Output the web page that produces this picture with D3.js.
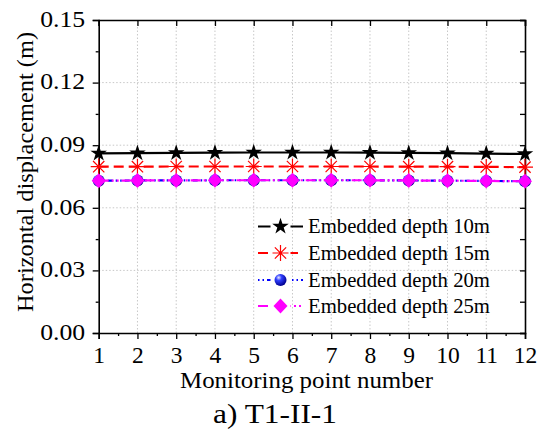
<!DOCTYPE html>
<html><head><meta charset="utf-8">
<script src="https://cdn.jsdelivr.net/npm/d3@7"></script>
<style>body{margin:0;background:#fff}svg{display:block}</style>
</head><body>
<script>
const points = [1,2,3,4,5,6,7,8,9,10,11,12];
const depth10 = [0.0861,0.0862,0.0863,0.0864,0.0865,0.0865,0.0865,0.0864,0.0863,0.0862,0.0860,0.0858];
const depth15 = [0.0797,0.0797,0.0798,0.0798,0.0798,0.0798,0.0798,0.0798,0.0797,0.0797,0.0796,0.0795];
const depth20 = [0.0730,0.0731,0.0731,0.0732,0.0732,0.0732,0.0732,0.0732,0.0731,0.0730,0.0729,0.0727];
const depth25 = [0.0730,0.0731,0.0731,0.0732,0.0732,0.0732,0.0732,0.0732,0.0731,0.0730,0.0729,0.0727];
const seriesNames = ["Embedded depth 10m","Embedded depth 15m","Embedded depth 20m","Embedded depth 25m"];
const yTicks = [0.00,0.03,0.06,0.09,0.12,0.15];
const yMinor = [0.015,0.045,0.075,0.105,0.135];
const xMinor = [1.5,2.5,3.5,4.5,5.5,6.5,7.5,8.5,9.5,10.5,11.5];

const FONT="Liberation Serif";
const W=547,H=430;
const L=98.7,R=525,T=20,B=333;
const svg=d3.select("body").append("svg").attr("width",W).attr("height",H);
const x=d3.scaleLinear().domain([1,12]).range([L,R]);
const y=d3.scaleLinear().domain([0,0.15]).range([B,T]);

const defs=svg.append("defs");
const g=defs.append("radialGradient").attr("id","sph").attr("cx","35%").attr("cy","30%").attr("r","70%");
g.append("stop").attr("offset","0%").attr("stop-color","#e8e8ff");
g.append("stop").attr("offset","35%").attr("stop-color","#3040ff");
g.append("stop").attr("offset","100%").attr("stop-color","#000090");

// grid
const grid=svg.append("g").attr("stroke","#c8c8c8").attr("stroke-width",1).attr("stroke-dasharray","1.5,2");
points.slice(1,-1).forEach(v=>grid.append("line").attr("x1",x(v)).attr("x2",x(v)).attr("y1",T).attr("y2",B));
yTicks.slice(1,-1).forEach(v=>grid.append("line").attr("x1",L).attr("x2",R).attr("y1",y(v)).attr("y2",y(v)));

// axes
const fmt=d3.format(".2f");
const axL=svg.append("g").attr("transform",`translate(${L},0)`).call(d3.axisLeft(y).tickValues(yTicks).tickFormat(fmt).tickSize(6).tickPadding(7.5));
svg.append("g").attr("transform",`translate(${L},0)`).call(d3.axisLeft(y).tickValues(yMinor).tickFormat("").tickSize(3)).select(".domain").remove();
const axB=svg.append("g").attr("transform",`translate(0,${B})`).call(d3.axisBottom(x).tickValues(points).tickFormat(d3.format("d")).tickSize(6).tickPadding(7.5));
svg.append("g").attr("transform",`translate(0,${B})`).call(d3.axisBottom(x).tickValues(xMinor).tickFormat("").tickSize(3)).select(".domain").remove();
svg.append("g").attr("transform",`translate(0,${T})`).call(d3.axisTop(x).tickValues(points).tickFormat("").tickSize(-6));
svg.append("g").attr("transform",`translate(${R},0)`).call(d3.axisRight(y).tickValues(yTicks.concat(yMinor)).tickFormat("").tickSize(-5));
svg.selectAll("g").attr("font-family",null).attr("font-size",null);
svg.selectAll(".domain").attr("stroke","#000").attr("stroke-width",1.6);
svg.selectAll(".tick line").attr("stroke","#000").attr("stroke-width",1.3);
axL.selectAll("text").attr("font-size",23.5).attr("dy","0.27em").attr("textLength",45).attr("lengthAdjust","spacingAndGlyphs");
axB.selectAll("text").attr("font-size",23.5).attr("dy","0.71em");

// markers
function asterisk(r){let p="";for(let i=0;i<4;i++){const a=i*Math.PI/4;const dx=r*Math.cos(a),dy=r*Math.sin(a);p+=`M${-dx},${-dy}L${dx},${dy}`;}return p;}
function drawMarker(sel,type){
  if(type===0) sel.append("path").attr("d",d3.symbol(d3.symbolStar,85)()).attr("fill","#000");
  else if(type===1) sel.append("path").attr("d",asterisk(8)).attr("stroke","#ff0000").attr("stroke-width",1.2).attr("fill","none");
  else if(type===2) sel.append("circle").attr("r",6).attr("fill","url(#sph)");
  else sel.append("path").attr("d","M0,-7.5L7,0L0,7.5L-7,0Z").attr("fill","#ff00ff");
}
const styles=[
  {color:"#000",dash:null,w:2.2},
  {color:"#ff0000",dash:"10,5",w:2.2},
  {color:"#0000ff",dash:"1.5,3,1.5,3,5,3",w:2.2},
  {color:"#ff00ff",dash:"10,3,2,3,2,3",w:2.2}
];
const data=[depth10,depth15,depth20,depth25];
const line=d3.line().x((d,i)=>x(points[i])).y(d=>y(d));
data.forEach((s,k)=>{
  const st=styles[k];
  const p=svg.append("path").datum(s).attr("d",line).attr("fill","none").attr("stroke",st.color).attr("stroke-width",st.w);
  if(st.dash) p.attr("stroke-dasharray",st.dash);
  s.forEach((v,i)=>{const m=svg.append("g").attr("transform",`translate(${x(points[i])},${y(v)})`);drawMarker(m,k);});
});

// legend
const legY=[226.5,253,280,306];
seriesNames.forEach((n,k)=>{
  const st=styles[k];
  const l=svg.append("line").attr("x1",258).attr("x2",303).attr("y1",legY[k]).attr("y2",legY[k]).attr("stroke",st.color).attr("stroke-width",2.2);
  if(st.dash) l.attr("stroke-dasharray",st.dash);
  const m=svg.append("g").attr("transform",`translate(280.5,${legY[k]})`);
  m.append("rect").attr("x",-10).attr("y",-9).attr("width",20).attr("height",18).attr("fill","#fff");
  drawMarker(m,k);
  svg.append("text").attr("x",308).attr("y",legY[k]).attr("dy","0.33em").attr("font-size",20.5)
    .attr("textLength",182).attr("lengthAdjust","spacingAndGlyphs").text(n);
});

// labels
svg.append("text").attr("x",180).attr("y",388).attr("font-size",24)
  .attr("textLength",253).attr("lengthAdjust","spacingAndGlyphs").text("Monitoring point number");
svg.append("text").attr("transform",`translate(33,312) rotate(-90)`).attr("font-size",24)
  .attr("textLength",280).attr("lengthAdjust","spacingAndGlyphs").text("Horizontal displacement (m)");
svg.append("text").attr("x",213).attr("y",423).attr("font-size",26.5)
  .attr("textLength",124).attr("lengthAdjust","spacingAndGlyphs").text("a) T1-II-1");
svg.selectAll("text").attr("font-family",FONT).attr("fill","#000");
</script>
</body></html>
